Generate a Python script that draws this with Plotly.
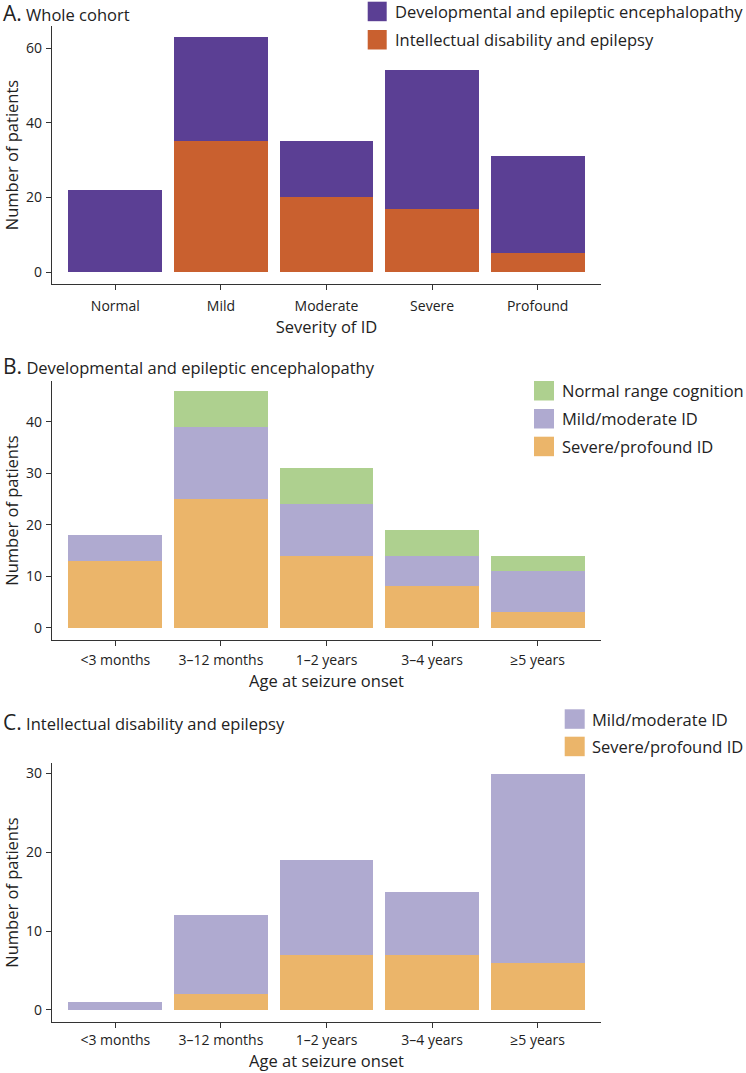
import plotly.graph_objects as go

W, H = 746, 1073

# ---- Data ----
severity_cats = ["Normal", "Mild", "Moderate", "Severe", "Profound"]
dee_by_severity = [22, 28, 15, 37, 26]
ide_by_severity = [0, 35, 20, 17, 5]

onset_cats = ["<3 months", "3–12 months", "1–2 years", "3–4 years", "≥5 years"]
dee_severe_profound = [13, 25, 14, 8, 3]
dee_mild_moderate = [5, 14, 10, 6, 8]
dee_normal = [0, 7, 7, 5, 3]

ide_severe_profound = [0, 2, 7, 7, 6]
ide_mild_moderate = [1, 10, 12, 8, 24]

yticks_a = [0, 20, 40, 60]
yticks_b = [0, 10, 20, 30, 40]
yticks_c = [0, 10, 20, 30]

# ---- Styles ----
C_DEE = "#5B3F94"
C_IDE = "#C9602F"
C_NORM = "#AED08F"
C_MILD = "#AFAAD0"
C_SEV = "#EBB56A"
FONT = "Open Sans"
TXT = "#222222"
AX = "#333333"
FS = 16.5


def px(x):
    return x / W


def py(y):
    return 1 - y / H


fig = go.Figure()

def bar(x, y, name, color, xa, ya):
    fig.add_trace(go.Bar(x=x, y=y, name=name, marker=dict(color=color, line=dict(width=0)),
                         xaxis=xa, yaxis=ya, showlegend=False))

# Panel A
bar(severity_cats, ide_by_severity, "Intellectual disability and epilepsy", C_IDE, "x", "y")
bar(severity_cats, dee_by_severity, "Developmental and epileptic encephalopathy", C_DEE, "x", "y")
# Panel B
bar(onset_cats, dee_severe_profound, "Severe/profound ID", C_SEV, "x2", "y2")
bar(onset_cats, dee_mild_moderate, "Mild/moderate ID", C_MILD, "x2", "y2")
bar(onset_cats, dee_normal, "Normal range cognition", C_NORM, "x2", "y2")
# Panel C
bar(onset_cats, ide_severe_profound, "Severe/profound ID", C_SEV, "x3", "y3")
bar(onset_cats, ide_mild_moderate, "Mild/moderate ID", C_MILD, "x3", "y3")

xdom = [px(52), px(601)]

def xaxis(anchor, title, lab_off, title_off):
    return dict(domain=xdom, anchor=anchor, range=[-0.6, 4.6], showline=True, linecolor=AX,
                linewidth=1.3, ticks="outside", ticklen=5, tickcolor=AX, tickwidth=1.2,
                ticklabelstandoff=lab_off,
                tickfont=dict(family=FONT, size=14, color=TXT), showgrid=False, zeroline=False,
                title=dict(text=title, font=dict(family=FONT, size=FS, color=TXT), standoff=title_off),
                fixedrange=True)

def yaxis(anchor, dom, rng, tv):
    return dict(domain=dom, anchor=anchor, range=rng, showline=True, linecolor=AX,
                linewidth=1.3, ticks="outside", ticklen=5, tickcolor=AX, tickwidth=1.2,
                tickvals=tv, tickfont=dict(family=FONT, size=14, color=TXT), showgrid=False,
                zeroline=False, ticklabelstandoff=1,
                title=dict(text="Number of patients", font=dict(family=FONT, size=FS, color=TXT), standoff=7))

fig.update_layout(
    width=W, height=H, margin=dict(l=0, r=0, t=0, b=0), barmode="stack", bargap=0.11,
    plot_bgcolor="white", paper_bgcolor="white", showlegend=False,
    font=dict(family=FONT, color=TXT),
    xaxis=xaxis("y", "Severity of ID", 4, 2),
    yaxis=yaxis("x", [py(284), py(26)], [-3.2, 65.9], yticks_a),
    xaxis2=xaxis("y2", "Age at seizure onset", 2, 4),
    yaxis2=yaxis("x2", [py(640), py(381)], [-2.4, 47.9], yticks_b),
    xaxis3=xaxis("y3", "Age at seizure onset", 0, 4),
    yaxis3=yaxis("x3", [py(1021.7), py(763.3)], [-1.5, 31.3], yticks_c),
)

# Panel titles
titles = [("A.", "Whole cohort", 12.5), ("B.", "Developmental and epileptic encephalopathy", 366),
          ("C.", "Intellectual disability and epilepsy", 721.5)]
for letter, t, yc in titles:
    fig.add_annotation(x=px(0.5), y=py(yc), xref="paper", yref="paper", xanchor="left",
                       yanchor="middle", showarrow=False,
                       text=f"<span style='font-size:21px'>{letter}</span> {t}",
                       font=dict(family=FONT, size=FS, color=TXT))

# Legends (swatch left x, swatch right x, text x, list of (name, color, y_top))
legends = [
    (367.7, 386.7, 392.5, [("Developmental and epileptic encephalopathy", C_DEE, 1.7),
                           ("Intellectual disability and epilepsy", C_IDE, 30)]),
    (534, 554, 560, [("Normal range cognition", C_NORM, 381), ("Mild/moderate ID", C_MILD, 409),
                     ("Severe/profound ID", C_SEV, 436.7)]),
    (564.7, 584.7, 590, [("Mild/moderate ID", C_MILD, 709.3), ("Severe/profound ID", C_SEV, 736.7)]),
]
for x0, x1, tx, items in legends:
    for name, col, yt in items:
        fig.add_shape(type="rect", xref="paper", yref="paper", x0=px(x0), x1=px(x1),
                      y0=py(yt + 19.5), y1=py(yt), fillcolor=col, line=dict(width=0))
        fig.add_annotation(x=px(tx), y=py(yt + 9.8), xref="paper", yref="paper", xanchor="left",
                           yanchor="middle", showarrow=False, text=name,
                           font=dict(family=FONT, size=FS, color=TXT))

fig.write_html("out.html", config={"displayModeBar": False},
               post_script="document.body.style.margin='0';document.body.style.overflow='hidden';")
